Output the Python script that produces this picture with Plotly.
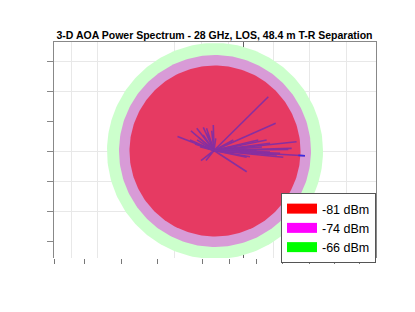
import numpy as np
import plotly.graph_objects as go

# ---- data ----
title_text = "3-D AOA Power Spectrum - 28 GHz, LOS, 48.4 m T-R Separation"
level_labels = ["-81 dBm", "-74 dBm", "-66 dBm"]
level_radius = [85.5, 96.0, 108.0]
level_fill = ["#e63a62", "#d89bd7", "#ccffcc"]
legend_colors = ["#ff0000", "#ff00ff", "#00ff00"]

# rays: azimuth (deg) and length (plot units)
ray_angle = [44.7, 23.8, 6.1, 159.0, 139.7, 127.9, 114.8, 108.7, 96.6, 91.6, 82.0,
             218.0, 231.0, 156.4, 161.0, 165.0, 1.6, 0.8, -5.6, -2.4, -4.1, 7.3,
             11.3, 13.3, -9.8, -11.7, 28.5, 12.0, -0.7, 4.2, -2.8, -1.5, 112.0,
             125.0, 140.0, 148.0, -33.0]
ray_length = [76.4, 67.4, 83.0, 39.1, 30.2, 28.1, 25.5, 23.4, 19.9, 25.5, 12.3,
              16.5, 12.8, 26.2, 20.1, 14.5, 77.7, 74.3, 69.6, 66.1, 62.9, 56.5,
              53.7, 45.5, 36.5, 33.4, 22.0, 26.6, 42.7, 48.1, 31.0, 56.0, 18.0,
              19.0, 19.5, 20.0, 39.0]
blue_ray_angle = -3.3
blue_ray_length = 91.1
ray_origin = (-1.0, 0.5)

x_grid = [-144, -118, -41, -14, 13, 58, 94, 131]
x_ticks = [-161, -131, -94, -58, -13, 14, 41, 67, 94, 119, 144]
y_grid = [90, 60, 0, -30, -60]
y_ticks = [90, 60, 30, 0, -30, -60, -90]
z_axis_x = [28]

# page body has an 8px margin; compensate so the plot lands where the reference has it
OFF = 8

fig = go.Figure()

theta = np.linspace(0, 2 * np.pi, 241)
for lab, r, fc in reversed(list(zip(level_labels, level_radius, level_fill))):
    fig.add_trace(go.Scatter(x=r * np.cos(theta), y=r * np.sin(theta), mode="lines",
                             fill="toself", fillcolor=fc, line=dict(width=0),
                             hoverinfo="skip", showlegend=False))

# rays
xs, ys = [], []
for a, l in zip(ray_angle, ray_length):
    t = np.deg2rad(a)
    xs += [ray_origin[0], ray_origin[0] + l * np.cos(t), None]
    ys += [ray_origin[1], ray_origin[1] + l * np.sin(t), None]
tb = np.deg2rad(blue_ray_angle)
red_r = level_radius[0]
xs += [ray_origin[0], ray_origin[0] + blue_ray_length * np.cos(tb), None]
ys += [ray_origin[1], ray_origin[1] + blue_ray_length * np.sin(tb), None]
fig.add_trace(go.Scatter(x=xs, y=ys, mode="lines", line=dict(color="#872fa0", width=1.6),
                         hoverinfo="skip", showlegend=False))
fig.add_trace(go.Scatter(x=[ray_origin[0] + (red_r - 1) * np.cos(tb), ray_origin[0] + blue_ray_length * np.cos(tb)],
                         y=[ray_origin[1] + (red_r - 1) * np.sin(tb), ray_origin[1] + blue_ray_length * np.sin(tb)],
                         mode="lines", line=dict(color="#3a2ee0", width=1.6),
                         hoverinfo="skip", showlegend=False))

# legend entries
for lab, lc in zip(level_labels, legend_colors):
    fig.add_trace(go.Scatter(x=[None], y=[None], mode="lines",
                             line=dict(width=13, color=lc), name=lab))

fig.update_layout(
    width=415, height=312,
    margin=dict(l=54 - OFF, r=415 - (376 - OFF), t=42 - OFF, b=312 - (258 - OFF)),
    paper_bgcolor="white", plot_bgcolor="white",
    title=dict(text="<b>" + title_text + "</b>", x=(214.5 - OFF) / 415, xanchor="center",
               y=1 - (35 - OFF) / 312, yanchor="middle",
               font=dict(family="Liberation Sans, Arial", size=10.5, color="black")),
    xaxis=dict(range=[-161, 161], tickvals=x_grid, showticklabels=False, ticks="",
               showgrid=True, gridcolor="#e8e8e8", gridwidth=1, zeroline=False,
               showline=False),
    xaxis2=dict(range=[-161, 161], overlaying="x", side="bottom", tickvals=x_ticks,
                ticks="outside", ticklen=5, tickcolor="#777777", showticklabels=False,
                showgrid=False, zeroline=False, showline=False),
    xaxis3=dict(range=[-161, 161], overlaying="x", side="top", tickvals=z_axis_x,
                ticks="", showticklabels=False, showgrid=True, gridcolor="#606060",
                gridwidth=1, zeroline=False, showline=True, linecolor="#888888", linewidth=1),
    yaxis=dict(range=[-107, 109], tickvals=y_ticks, ticks="outside", ticklen=6,
               tickcolor="#888888", showticklabels=False, showgrid=False, zeroline=False,
               showline=True, linecolor="#888888", linewidth=1, mirror=True),
    yaxis2=dict(range=[-107, 109], overlaying="y", tickvals=y_grid, ticks="",
                showticklabels=False, showgrid=True, gridcolor="#e8e8e8", zeroline=False),
    legend=dict(x=1, xanchor="right", y=1 - (193 - 42) / 216, yanchor="top",
                bgcolor="white", bordercolor="#555555", borderwidth=1,
                font=dict(family="Liberation Sans, Arial", size=12.5, color="black"),
                tracegroupgap=0, itemwidth=30),
    showlegend=True,
)
fig.add_trace(go.Scatter(x=[None], y=[None], xaxis="x2", showlegend=False))
fig.add_trace(go.Scatter(x=[None], y=[None], xaxis="x3", showlegend=False))
fig.add_trace(go.Scatter(x=[None], y=[None], yaxis="y2", showlegend=False))

fig.write_html("out.html")
